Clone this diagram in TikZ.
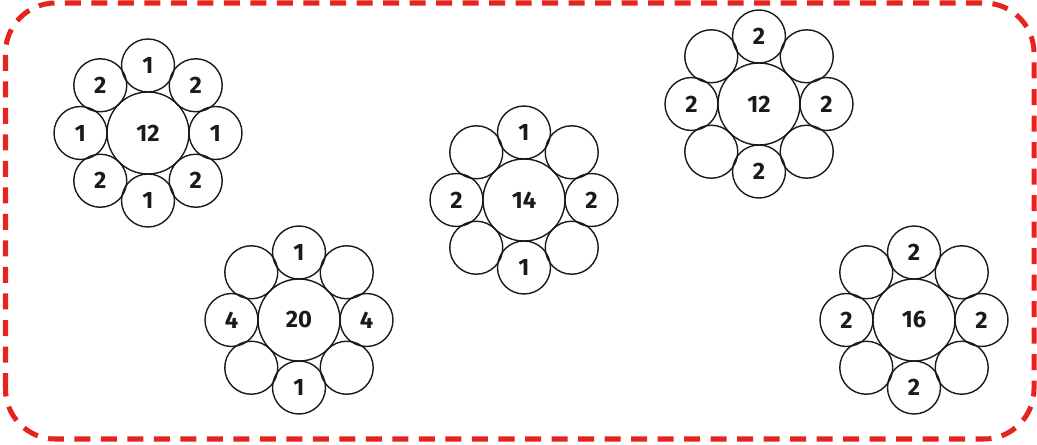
\documentclass[tikz,border=0pt]{standalone}
\usepackage{fontspec}
\setmainfont{Fira Sans}
\usetikzlibrary{positioning}
\definecolor{ringRed}{HTML}{E5231F}
\definecolor{ringInk}{HTML}{1A1A1A}

\begin{document}
\begin{tikzpicture}[
  font=\bfseries\fontsize{13.5}{15}\selectfont,
  hub/.style={circle, draw=ringInk, line width=0.8pt, minimum size=1.64cm,
              inner sep=0pt, text=ringInk},
  petal/.style={circle, draw=ringInk, line width=0.8pt, minimum size=1.06cm,
                inner sep=0pt, text=ringInk},
  frame/.style={draw=ringRed, line width=2.85pt,
                dash pattern=on 0.32cm off 0.21cm, rounded corners=1.0cm},
]
\useasboundingbox (0,0) rectangle (20.74,8.88);

% ================================ frame =====================================
\draw[frame] (0.11,0.10) rectangle (20.68,8.82);

% Each flower: a hub and eight petals, counted clockwise from the top.
% ============================== hub 12, left ================================
\begin{scope}[shift={(2.96,6.22)}]
  \node[hub] (h1) at (0,0) {12};
  \foreach \i/\t in {0/1, 1/2, 2/1, 3/2, 4/1, 5/2, 6/1, 7/2}
    \node[petal] (h1-\i) at ({90-45*\i}:1.35) {\t};
\end{scope}

% ================================= hub 20 ===================================
\begin{scope}[shift={(5.98,2.48)}]
  \node[hub] (h2) at (0,0) {20};
  \foreach \i/\t in {0/1, 1/, 2/4, 3/, 4/1, 5/, 6/4, 7/}
    \node[petal] (h2-\i) at ({90-45*\i}:1.35) {\t};
\end{scope}

% ================================= hub 14 ===================================
\begin{scope}[shift={(10.48,4.88)}]
  \node[hub] (h3) at (0,0) {14};
  \foreach \i/\t in {0/1, 1/, 2/2, 3/, 4/1, 5/, 6/2, 7/}
    \node[petal] (h3-\i) at ({90-45*\i}:1.35) {\t};
\end{scope}

% ============================= hub 12, right ================================
\begin{scope}[shift={(15.18,6.80)}]
  \node[hub] (h4) at (0,0) {12};
  \foreach \i/\t in {0/2, 1/, 2/2, 3/, 4/2, 5/, 6/2, 7/}
    \node[petal] (h4-\i) at ({90-45*\i}:1.35) {\t};
\end{scope}

% ================================= hub 16 ===================================
\begin{scope}[shift={(18.28,2.48)}]
  \node[hub] (h5) at (0,0) {16};
  \foreach \i/\t in {0/2, 1/, 2/2, 3/, 4/2, 5/, 6/2, 7/}
    \node[petal] (h5-\i) at ({90-45*\i}:1.35) {\t};
\end{scope}
\end{tikzpicture}
\end{document}
